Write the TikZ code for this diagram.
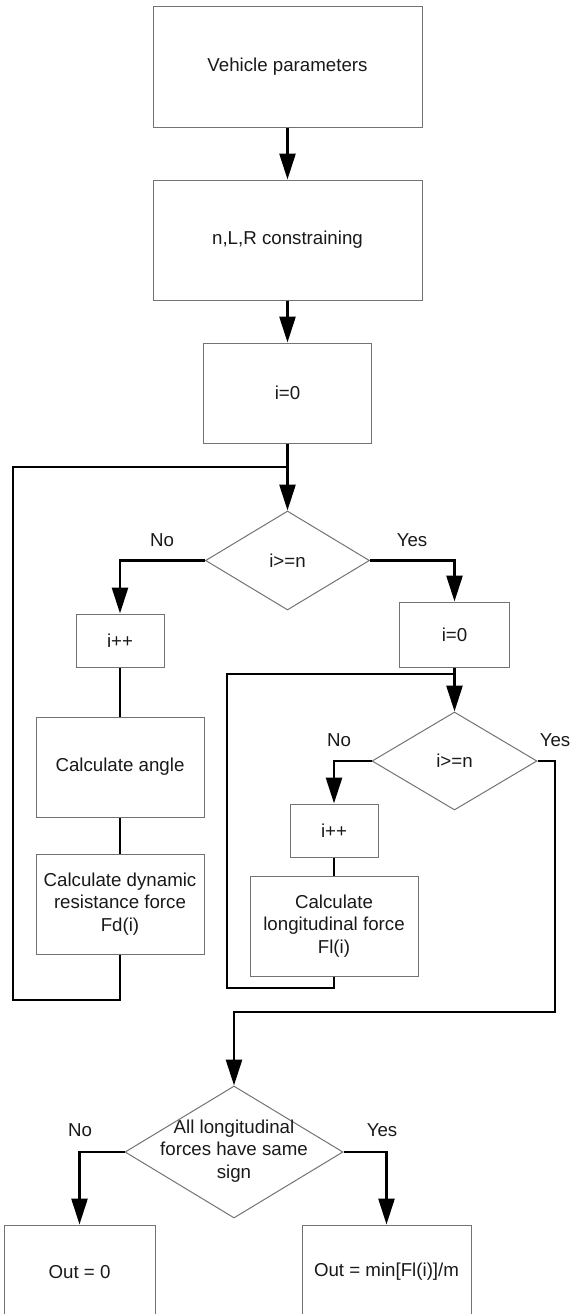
\documentclass[tikz,border=0pt]{standalone}
\usepackage{fontspec}
\setmainfont{Liberation Sans}
\usetikzlibrary{arrows.meta,shapes.geometric}
\tikzset{
  box/.style={draw=black!55, line width=1pt, rectangle, inner sep=2pt, align=center, font=\fontsize{18.7}{22.5}\selectfont, text=black!90},
  dia/.style={draw=black!55, line width=1pt, diamond, inner sep=0pt, align=center, font=\fontsize{18.7}{22.5}\selectfont, text=black!90},
  lbl/.style={font=\fontsize{18.7}{22.5}\selectfont, text=black!90, inner sep=0pt},
  txt/.style={font=\fontsize{18.7}{22.5}\selectfont, text=black!90, align=center, inner sep=0pt},
  line/.style={draw=black, line width=2.7pt},
  arr/.style={line, -{Triangle[length=26pt,width=16pt]}}
}
\begin{document}
\begin{tikzpicture}[x=1pt,y=-1pt]
\useasboundingbox (0,0) rectangle (571,1314);
% nodes
\node[box, minimum width=269pt, minimum height=120pt] (vp) at (287.5,67) {Vehicle parameters};
\node[box, minimum width=269pt, minimum height=120pt] (nlr) at (287.5,240) {n,L,R constraining};
\node[box, minimum width=168pt, minimum height=100pt] (ia) at (287.5,393) {i=0};
\node[dia, minimum width=164pt, minimum height=99pt] (d1) at (287.5,560.5) {i>=n};
\node[box, minimum width=88pt, minimum height=53pt] (pa) at (120,640.5) {i++};
\node[box, minimum width=168pt, minimum height=100pt] (ca) at (120,767) {Calculate angle};
\node[box, minimum width=168pt, minimum height=100pt] (fd) at (120,904) {Calculate dynamic\\resistance force\\Fd(i)};
\node[box, minimum width=110pt, minimum height=65pt] (ib) at (454.5,634.5) {i=0};
\node[dia, minimum width=165pt, minimum height=98pt] (d2) at (454.5,761) {i>=n};
\node[box, minimum width=88pt, minimum height=53pt] (pb) at (334,830.5) {i++};
\node[box, minimum width=168pt, minimum height=100pt] (fl) at (334,926) {Calculate\\longitudinal force\\Fl(i)};
\node[dia, minimum width=218pt, minimum height=132pt] (d3) at (234,1152) {};
\node[txt] (d3t) at (234,1151) {All longitudinal\\forces have same\\sign};
\node[box, minimum width=151pt, minimum height=94pt] (o0) at (79.5,1272) {Out = 0};
\node[box, minimum width=169pt, minimum height=94pt] (om) at (386.5,1272) {Out = min[Fl(i)]/m};
% labels
\node[lbl] (n1) at (162,540) {No};
\node[lbl] (y1) at (412,540) {Yes};
\node[lbl] (n2) at (339,740) {No};
\node[lbl] (y2) at (555,740) {Yes};
\node[lbl] (n3) at (80,1130) {No};
\node[lbl] (y3) at (382,1130) {Yes};
% helper coordinates
\coordinate (j1) at (287.5,467);
\coordinate (l1) at (13,1000);
\coordinate (j2) at (454.5,674);
\coordinate (r1) at (227,988);
\coordinate (y2a) at (555,1012);
% connectors
\draw[arr] (vp.south) -- (nlr.north);
\draw[arr] (nlr.south) -- (ia.north);
\draw[arr] (ia.south) -- (d1.north);
\draw[arr] (d1.west) -| (pa.north);
\draw[line] (pa.south) -- (ca.north);
\draw[line] (ca.south) -- (fd.north);
\draw[line] (fd.south) |- (l1) |- (j1);
\draw[arr] (d1.east) -| (ib.north);
\draw[arr] (ib.south) -- (d2.north);
\draw[arr] (d2.west) -| (pb.north);
\draw[line] (pb.south) -- (fl.north);
\draw[line] (fl.south) |- (r1) |- (j2);
\draw[arr] (d2.east) -| (y2a) -| (d3.north);
\draw[arr] (d3.west) -| (o0.north);
\draw[arr] (d3.east) -| (om.north);
\end{tikzpicture}
\end{document}
